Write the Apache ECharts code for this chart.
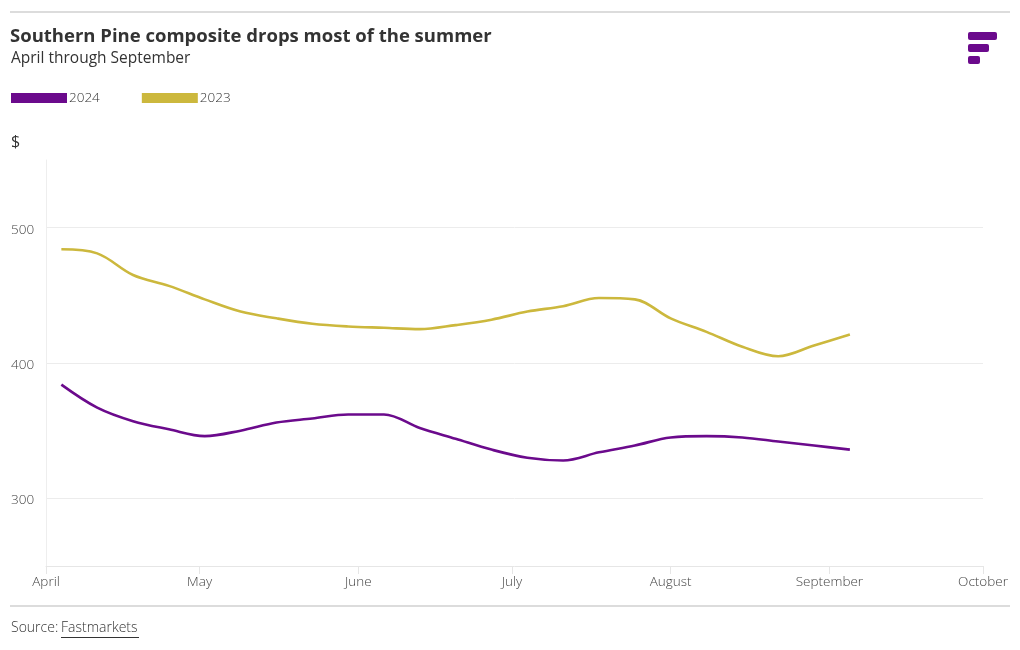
<!DOCTYPE html>
<html><head><meta charset="utf-8">
<script src="https://cdn.jsdelivr.net/npm/echarts@6/dist/echarts.min.js"></script>
<style>html,body{margin:0;padding:0;background:#fff}#c{width:1020px;height:650px}</style>
</head><body><div id="c"></div>
<script>
const dates = ['2024-04-04','2024-04-11','2024-04-18','2024-04-25','2024-05-02','2024-05-09','2024-05-16','2024-05-23','2024-05-30','2024-06-06','2024-06-13','2024-06-20','2024-06-27','2024-07-04','2024-07-11','2024-07-18','2024-07-25','2024-08-01','2024-08-08','2024-08-15','2024-08-22','2024-08-29','2024-09-05'];
const values2024 = [384,367,357,351,346,350,356,359,362,362,352,344,336,330,328,334,339,345,346,345,342,339,336];
const values2023 = [484,481,465,457,447,438,433,429,427,426,425,428,432,438,442,448,447,433,423,412,405,413,421];
const seriesNames = ['2024','2023'];
const colors = ['#6b0a8c','#ccb83d'];
const monthNames = ['January','February','March','April','May','June','July','August','September','October','November','December'];
const yLabels = [300,400,500];

const chart = echarts.init(document.getElementById('c'));
const font = 'Open Sans';
const pair = (vals) => dates.map((d,i)=>[d, vals[i]]);
chart.setOption({
  animation:false,
  textStyle:{fontFamily:font},
  grid:{left:46,right:37,top:160,bottom:84,containLabel:false},
  legend:{
    left:11, top:91, padding:0, icon:'rect', itemWidth:56, itemHeight:10, itemGap:42,
    textStyle:{fontFamily:font,fontSize:13.5,fontWeight:300,color:'#333',padding:[0,0,0,-3]},
    data:seriesNames
  },
  xAxis:{
    type:'time', min:'2024-04-01', max:'2024-10-01',
    minInterval:28*86400000, maxInterval:31*86400000,
    axisLine:{show:true,lineStyle:{color:'#e6e6e6'}},
    axisTick:{show:true,length:8,lineStyle:{color:'#e6e6e6'}},
    splitLine:{show:false},
    axisLabel:{margin:9,fontFamily:font,fontSize:13.5,fontWeight:300,color:'#444',
      formatter:(v)=>monthNames[new Date(v).getMonth()], hideOverlap:false, showMinLabel:true, showMaxLabel:true}
  },
  yAxis:{
    type:'value', min:250, max:550, interval:50,
    axisLine:{show:true,lineStyle:{color:'#eeeeee'}},
    axisTick:{show:false},
    splitLine:{show:true,lineStyle:{color:['rgba(0,0,0,0)','#ececec'],width:1}},
    axisLabel:{margin:35,align:'left',fontFamily:font,fontSize:13.5,fontWeight:300,color:'#444',
      rich:{a:{fontFamily:font,fontSize:13.5,fontWeight:300,color:'#444',padding:[4,0,0,0]}},
      formatter:(v)=> yLabels.indexOf(v)>=0 ? '{a|' + v + '}' : ''}
  },
  series:[
    {name:seriesNames[0],type:'line',data:pair(values2024),smooth:0.35,showSymbol:false,
      lineStyle:{color:colors[0],width:2.6},itemStyle:{color:colors[0]}},
    {name:seriesNames[1],type:'line',data:pair(values2023),smooth:0.35,showSymbol:false,
      lineStyle:{color:colors[1],width:2.6},itemStyle:{color:colors[1]}}
  ],
  graphic:[
    {type:'rect',shape:{x:10,y:11,width:1000,height:2},style:{fill:'#dcdcdc'}},
    {type:'text',left:10,top:27,style:{text:'Southern Pine composite drops most of the summer',fontFamily:font,fontSize:18.5,fontWeight:'bold',fill:'#333'}},
    {type:'text',left:11,top:51,style:{text:'April through September',fontFamily:font,fontSize:15.5,fontWeight:'normal',fill:'#333'}},
    {type:'text',left:11,top:134,style:{text:'$',fontFamily:font,fontSize:16,fontWeight:'normal',fill:'#333'}},
    {type:'rect',shape:{x:968,y:32,width:29,height:8,r:2},style:{fill:'#6b0a8c'}},
    {type:'rect',shape:{x:968,y:44,width:21,height:8,r:2},style:{fill:'#6b0a8c'}},
    {type:'rect',shape:{x:968,y:56,width:12,height:8,r:2},style:{fill:'#6b0a8c'}},
    {type:'rect',shape:{x:10,y:605,width:1000,height:2},style:{fill:'#dcdcdc'}},
    {type:'text',left:11,top:621,style:{text:'Source: ',fontFamily:font,fontSize:14,fontWeight:300,fill:'#333'}},
    {type:'text',left:61,top:621,style:{text:'Fastmarkets',fontFamily:font,fontSize:14,fontWeight:300,fill:'#333'}},
    {type:'rect',shape:{x:61,y:637,width:78,height:1},style:{fill:'#333'}}
  ]
});
</script></body></html>
